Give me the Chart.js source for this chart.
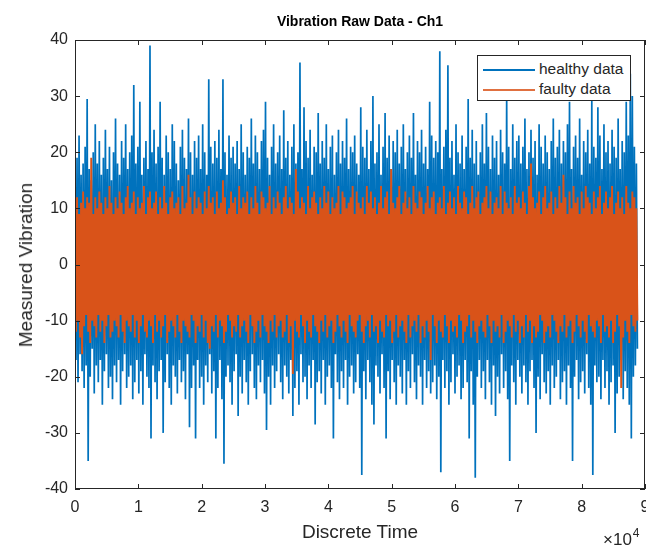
<!DOCTYPE html>
<html>
<head>
<meta charset="utf-8">
<script src="https://cdn.jsdelivr.net/npm/chart.js@4/dist/chart.umd.min.js"></script>
<style>
  html, body { margin: 0; padding: 0; background: #fff; }
  #wrap { position: relative; width: 646px; height: 546px; font-family: "Liberation Sans", Arial, Helvetica, sans-serif; color: #262626; }
  #plot { position: absolute; left: 0; top: 0; }
  .lbl { position: absolute; white-space: nowrap; }
  #title { left: 75px; width: 570px; top: 13px; text-align: center; font-weight: bold; font-size: 14px; color: #000; }
  #xlabel { left: 75px; width: 570px; top: 521px; text-align: center; font-size: 19px; }
  #ylabel { left: 26px; top: 265px; font-size: 19px; transform: translate(-50%, -50%) rotate(-90deg); }
  #xexp { left: 603px; top: 527px; font-size: 17px; }
  #xexp sup { font-size: 12px; position: relative; top: -1px; margin-left: 1px; }
  #legend { position: absolute; left: 477px; top: 55px; width: 152px; height: 44px; border: 1px solid #262626; background: #fff; font-size: 15.5px; }
  .row { position: absolute; left: 5px; height: 20px; line-height: 20px; }
  .row i { display: inline-block; width: 52px; height: 1.5px; vertical-align: middle; margin-right: 4px; }
</style>
</head>
<body>
<div id="wrap">
  <canvas id="plot" width="646" height="546"></canvas>
  <div class="lbl" id="title">Vibration Raw Data - Ch1</div>
  <div class="lbl" id="xlabel">Discrete Time</div>
  <div class="lbl" id="ylabel">Measured Vibration</div>
  <div class="lbl" id="xexp">&times;10<sup>4</sup></div>
  <div id="legend">
    <div class="row" style="top:3px"><i style="background:#0072BD"></i>healthy data</div>
    <div class="row" style="top:23px"><i style="background:#E07040"></i>faulty data</div>
  </div>
</div>
<script>
// the raw signal is far too dense to plot sample by sample, so each bin of
// BIN samples keeps the peak and trough
const BIN = 320;

const healthyHigh = [
  14, 19, 23, 16, 18, 21, 29.5, 17, 15, 20, 25, 18, 22, 16, 19, 24, 17, 21, 15, 20,
  26, 18, 16, 22, 19, 25, 17, 20, 23, 32, 18, 21, 29, 16, 19, 22, 17, 39, 20, 24,
  18, 21, 29, 19, 16, 23, 20, 17, 25, 22, 18, 15, 21, 24, 19, 17, 26, 20, 16, 22,
  19, 23, 17, 25, 20, 16, 33, 21, 18, 22, 19, 24, 17, 33, 20, 16, 23, 19, 21, 18,
  22, 17, 25, 20, 16, 21, 19, 26, 18, 23, 20, 17, 22, 24, 29, 19, 16, 21, 25, 18,
  20, 23, 17, 27.5, 19, 22, 16, 21, 25, 18, 20, 36, 17, 28, 22, 19, 24, 16, 21, 20,
  27, 18, 22, 19, 25, 17, 21, 23, 16, 20, 24, 18, 22, 19, 26, 17, 21, 20, 23, 18,
  16, 28, 21, 19, 24, 17, 22, 30, 18, 20, 25, 16, 21, 27, 19, 23, 17, 22, 20, 24,
  18, 21, 25, 17, 20, 23, 19, 27, 16, 22, 20, 24, 18, 21, 17, 29, 23, 19, 22, 20,
  38, 17, 21, 24, 35.5, 19, 22, 16, 25, 20, 18, 23, 17, 21, 29.5, 19, 24, 18, 22, 16,
  20, 25, 18, 27, 21, 17, 23, 19, 22, 16, 24, 20, 18, 30, 21, 17, 25, 19, 22, 23,
  18, 21, 26, 17, 20, 24, 19, 22, 16, 25, 21, 18, 23, 20, 17, 22, 26, 19, 21, 24,
  18, 22, 20, 25, 29, 17, 21, 23, 19, 26, 16, 22, 20, 24, 18, 29.5, 21, 19, 28, 23,
  17, 25, 20, 22, 18, 24, 21, 19, 26, 17, 22, 20, 29, 23, 34, 30, 21, 18
];

const healthyLow = [
  -17, -21, -16, -19, -22, -18, -35, -20, -15, -23, -18, -21, -17, -25, -19, -16, -22, -20, -24, -18,
  -21, -17, -25, -19, -16, -22, -20, -18, -24, -21, -17, -23, -19, -25, -16, -20, -22, -31, -18, -21,
  -24, -19, -17, -30, -21, -16, -22, -25, -18, -20, -23, -17, -21, -19, -24, -16, -29, -22, -18, -31,
  -17, -22, -20, -25, -18, -21, -16, -23, -19, -31, -22, -17, -24, -35.5, -20, -18, -21, -25, -19, -16,
  -27, -20, -23, -17, -21, -25, -19, -16, -22, -24, -18, -21, -17, -23, -29.5, -20, -25, -18, -22, -19,
  -16, -21, -24, -18, -20, -23, -17, -27, -22, -19, -25, -16, -21, -20, -24, -18, -22, -17, -28.5, -21,
  -19, -23, -17, -25, -20, -18, -22, -31, -16, -21, -24, -19, -22, -17, -25, -20, -18, -23, -21, -16,
  -22, -37.5, -19, -24, -17, -21, -25, -28.5, -18, -20, -23, -16, -22, -31, -19, -24, -17, -21, -25, -18,
  -20, -23, -17, -25, -19, -22, -16, -21, -24, -18, -20, -25, -17, -22, -19, -23, -21, -18, -24, -20,
  -37, -17, -22, -19, -25, -21, -16, -23, -20, -18, -24, -22, -17, -21, -31, -19, -25, -38, -20, -17,
  -22, -19, -24, -17, -21, -25, -18, -27, -20, -23, -16, -22, -19, -24, -35, -18, -21, -25, -17, -20,
  -23, -18, -21, -25, -19, -17, -22, -30, -20, -24, -16, -21, -23, -19, -25, -18, -22, -20, -17, -24,
  -21, -19, -25, -18, -22, -35, -20, -17, -24, -21, -19, -23, -16, -22, -25, -37.5, -18, -21, -20, -24,
  -17, -22, -19, -25, -21, -18, -30, -23, -20, -17, -24, -19, -22, -25, -31, -20, -18, -15
];

const faultyHigh = [
  10, 12, 9, 11, 13, 10, 12, 11, 19, 9, 12, 10, 13, 11, 9, 12, 10, 14, 11, 9,
  12, 10, 13, 11, 9, 12, 14, 10, 11, 13, 9, 12, 10, 11, 14, 9, 12, 13, 10, 11,
  13, 9, 12, 10, 14, 11, 9, 12, 13, 10, 11, 12, 9, 14, 10, 11, 16, 12, 9, 13,
  10, 12, 11, 9, 13, 10, 14, 11, 12, 9, 13, 10, 11, 15, 12, 9, 10, 13, 11, 12,
  9, 14, 10, 12, 11, 13, 9, 12, 10, 14, 11, 9, 13, 12, 10, 11, 14, 9, 12, 10,
  13, 11, 9, 12, 14, 10, 12, 11, 9, 17, 13, 10, 12, 11, 9, 14, 10, 12, 13, 11,
  9, 12, 10, 14, 11, 13, 9, 12, 10, 11, 14, 9, 13, 12, 10, 11, 12, 14, 9, 13,
  11, 10, 12, 9, 14, 11, 13, 10, 12, 9, 11, 14, 10, 12, 13, 9, 17, 11, 10, 12,
  14, 9, 11, 13, 10, 12, 9, 14, 11, 10, 13, 12, 9, 11, 14, 10, 12, 13, 9, 11,
  12, 10, 14, 9, 11, 13, 10, 12, 9, 14, 11, 10, 13, 12, 9, 11, 14, 10, 12, 13,
  9, 11, 12, 14, 10, 13, 9, 11, 12, 10, 14, 9, 13, 11, 10, 12, 9, 14, 11, 12,
  10, 13, 11, 9, 14, 18, 12, 10, 11, 13, 9, 12, 14, 10, 11, 13, 9, 12, 10, 14,
  11, 16, 12, 9, 13, 10, 14, 11, 12, 9, 13, 10, 14, 12, 11, 9, 13, 10, 12, 14,
  9, 11, 13, 10, 12, 14, 9, 11, 13, 10, 12, 9, 14, 11, 10, 13, 12, 10
];

const faultyLow = [
  -12, -10, -13, -16, -11, -9, -12, -14, -10, -11, -13, -9, -12, -10, -14, -11, -9, -13, -12, -10,
  -11, -13, -9, -12, -14, -10, -11, -12, -9, -13, -10, -14, -11, -9, -12, -13, -10, -11, -14, -9,
  -12, -10, -13, -11, -9, -14, -12, -10, -11, -13, -9, -12, -14, -10, -11, -12, -13, -9, -10, -14,
  -11, -12, -9, -13, -10, -14, -15, -11, -12, -9, -13, -10, -11, -14, -12, -9, -10, -13, -11, -12,
  -9, -13, -11, -10, -12, -14, -9, -11, -14, -12, -10, -13, -9, -11, -12, -14, -10, -12, -9, -13,
  -11, -10, -13, -12, -9, -14, -11, -19.5, -10, -12, -13, -9, -11, -14, -10, -12, -13, -9, -11, -12,
  -14, -10, -12, -9, -13, -11, -10, -14, -12, -9, -11, -13, -10, -12, -14, -9, -11, -12, -13, -10,
  -9, -12, -14, -11, -10, -13, -9, -12, -11, -14, -10, -12, -13, -9, -11, -10, -14, -12, -9, -13,
  -11, -10, -12, -14, -9, -13, -11, -10, -12, -9, -14, -11, -13, -10, -12, -17, -9, -11, -14, -10,
  -12, -13, -9, -11, -14, -10, -12, -11, -13, -9, -10, -14, -12, -11, -9, -13, -10, -12, -14, -11,
  -10, -12, -13, -9, -11, -14, -10, -12, -11, -13, -9, -14, -12, -10, -11, -13, -9, -12, -10, -14,
  -11, -13, -9, -12, -10, -14, -11, -13, -12, -9, -10, -14, -12, -11, -13, -9, -10, -12, -14, -11,
  -12, -9, -13, -11, -10, -14, -12, -9, -11, -13, -10, -12, -14, -9, -11, -12, -13, -10, -11, -14,
  -9, -12, -11, -13, -10, -14, -12, -9, -11, -22, -13, -10, -12, -14, -9, -11, -12, -10
];

const xTicks = [0, 10000, 20000, 30000, 40000, 50000, 60000, 70000, 80000, 90000];
const yTicks = [-40, -30, -20, -10, 0, 10, 20, 30, 40];

const AXIS_COLOR = '#262626';
const TICK_LEN = 5;

// peak at the start of each bin, trough half a bin later
function toPoints(high, low) {
  const pts = [];
  high.forEach((h, i) => {
    pts.push({ x: i * BIN, y: h });
    pts.push({ x: i * BIN + BIN / 2, y: low[i] });
  });
  return pts;
}

// matlab style box with inward ticks on all four sides
const axesBox = {
  id: 'axesBox',
  afterDraw(chart) {
    const { ctx, chartArea: a, scales: { x, y } } = chart;
    ctx.save();
    ctx.strokeStyle = AXIS_COLOR;
    ctx.lineWidth = 1;
    ctx.beginPath();
    xTicks.forEach(t => {
      const px = Math.round(x.getPixelForValue(t)) + 0.5;
      ctx.moveTo(px, a.bottom); ctx.lineTo(px, a.bottom - TICK_LEN);
      ctx.moveTo(px, a.top); ctx.lineTo(px, a.top + TICK_LEN);
    });
    yTicks.forEach(t => {
      const py = Math.round(y.getPixelForValue(t)) + 0.5;
      ctx.moveTo(a.left, py); ctx.lineTo(a.left + TICK_LEN, py);
      ctx.moveTo(a.right, py); ctx.lineTo(a.right - TICK_LEN, py);
    });
    ctx.stroke();
    ctx.strokeRect(a.left + 0.5, a.top + 0.5, a.right - a.left - 1, a.bottom - a.top - 1);
    ctx.restore();
  }
};

const tickFont = { family: '"Liberation Sans", Arial, Helvetica, sans-serif', size: 16 };

new Chart(document.getElementById('plot'), {
  type: 'line',
  data: {
    datasets: [
      { label: 'healthy data', data: toPoints(healthyHigh, healthyLow), borderColor: '#0072BD', borderWidth: 1.7, order: 2 },
      { label: 'faulty data', data: toPoints(faultyHigh, faultyLow), borderColor: '#D95319', borderWidth: 1.9, order: 1 }
    ]
  },
  options: {
    responsive: false,
    devicePixelRatio: 1,
    animation: false,
    parsing: false,
    elements: {
      point: { radius: 0 },
      line: { tension: 0, borderJoinStyle: 'bevel', fill: false }
    },
    layout: { padding: { top: 40, right: 1, bottom: 0, left: 0 } },
    plugins: { legend: { display: false }, tooltip: { enabled: false }, title: { display: false } },
    scales: {
      x: {
        type: 'linear', min: 0, max: 90000,
        afterBuildTicks: s => { s.ticks = xTicks.map(v => ({ value: v })); },
        afterFit: s => { s.height = 57; s.paddingRight = 0; s.paddingLeft = 0; },
        ticks: { color: AXIS_COLOR, font: tickFont, padding: 9, maxRotation: 0, autoSkip: false,
                 callback: v => String(v / 10000) },
        grid: { display: false, drawTicks: false },
        border: { display: false }
      },
      y: {
        type: 'linear', min: -40, max: 40,
        afterBuildTicks: s => { s.ticks = yTicks.map(v => ({ value: v })); },
        afterFit: s => { s.width = 75; },
        ticks: { color: AXIS_COLOR, font: tickFont, padding: 7 },
        grid: { display: false, drawTicks: false },
        border: { display: false }
      }
    }
  },
  plugins: [axesBox]
});
</script>
</body>
</html>
